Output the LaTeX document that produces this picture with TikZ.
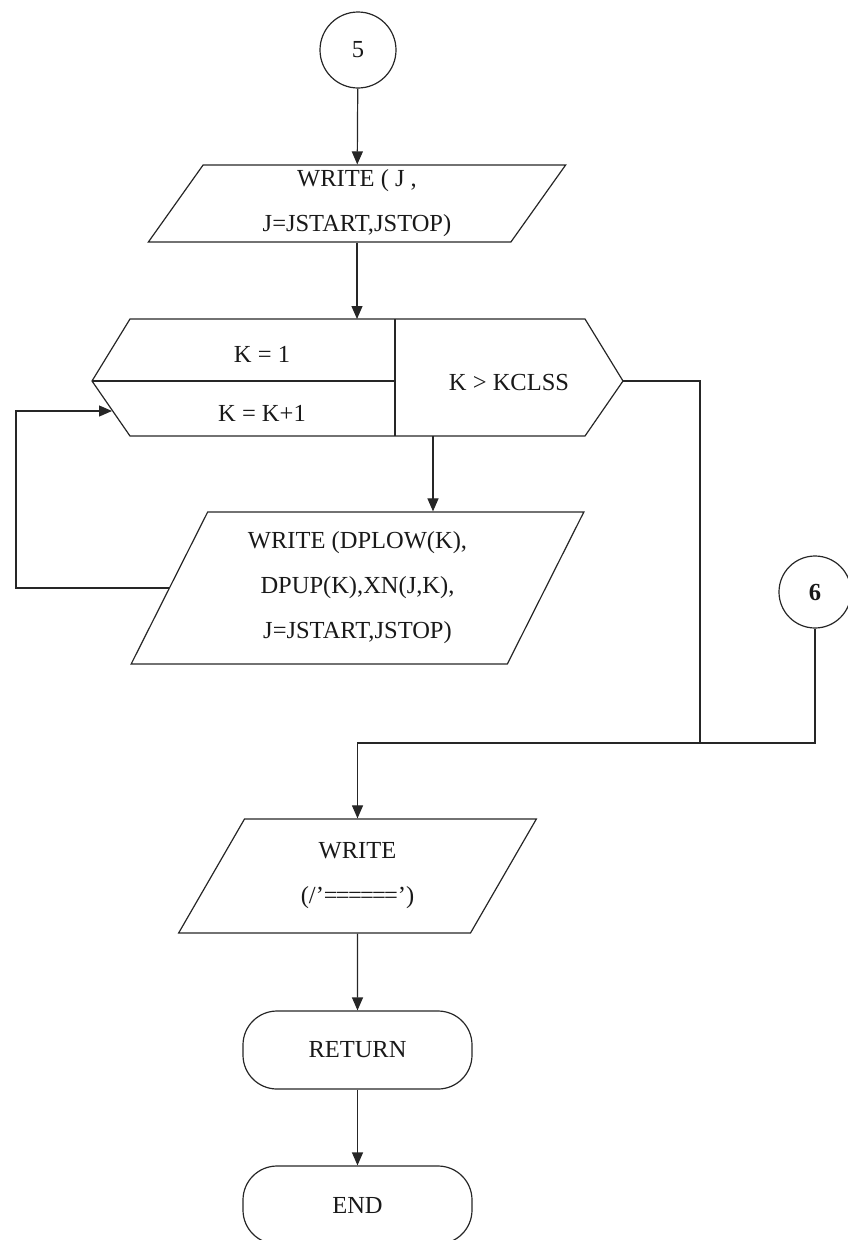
\documentclass[tikz,border=0pt]{standalone}
\usepackage{fontspec}
\setmainfont{Liberation Serif}
\usetikzlibrary{arrows.meta,shapes.geometric}

\tikzset{
  flow/.style={line width=1.2pt, draw=black!85},
  arr/.style={flow, -{Triangle[length=13pt,width=11pt]}},
  lbl/.style={font=\fontsize{24.5}{45}\selectfont, text=black!90, align=center, inner sep=0pt},
  io/.style={flow, lbl, trapezium, trapezium left angle=63.5, trapezium right angle=116.5,
             trapezium stretches=true, inner sep=0pt},
  conn/.style={flow, lbl, circle, minimum size=#1},
  term/.style={flow, lbl, rectangle, rounded corners=34pt, minimum width=229pt, minimum height=78pt}
}
% a run of equals signs set close enough to join into one double bar
\newcommand{\eqrun}{=\kern-1.8pt=\kern-1.8pt=\kern-1.8pt=\kern-1.8pt=\kern-1.8pt=}

\begin{document}
\begin{tikzpicture}[x=1pt, y=-1pt]
  \useasboundingbox (0,0) rectangle (847,1240);

  % connector 5 and the heading output
  \node[conn=76pt] (c5) at (358,50) {5};
  \node[io, minimum width=418pt, minimum height=77pt] (p1) at (357,203.5)
       {WRITE ( J ,\\J=JSTART,JSTOP)};

  % loop header: initial value, increment and exit test
  \coordinate (hxtl) at (130,319);
  \coordinate (hxtr) at (585,319);
  \coordinate (hxr)  at (623,381);
  \coordinate (hxbr) at (585,436);
  \coordinate (hxbl) at (130,436);
  \coordinate (hxl)  at (92,381);
  \coordinate (hxdt) at (395,319);
  \coordinate (hxdb) at (395,436);
  \coordinate (hxdm) at (395,381);
  \draw[flow] (hxtl) -- (hxtr) -- (hxr) -- (hxbr) -- (hxbl) -- (hxl) -- cycle;
  \draw[flow] (hxdt) -- (hxdb);
  \draw[flow] (hxl) -- (hxdm);
  \node[lbl] (kinit) at (262,354) {K = 1};
  \node[lbl] (kinc)  at (262,413) {K = K+1};
  \node[lbl] (ktest) at (509,383) {K > KCLSS};
  \coordinate (hxin)   at (357,319);
  \coordinate (hxout)  at (433,436);
  \coordinate (hxloop) at (112,411);

  % loop body
  \node[io, minimum width=455pt, minimum height=152pt] (p2) at (357.5,588)
       {WRITE (DPLOW(K),\\DPUP(K),XN(J,K),\\J=JSTART,JSTOP)};
  \coordinate (loopc) at (16,411);

  % connector 6 and the join
  \node[conn=72pt, font=\fontsize{24.5}{45}\selectfont\bfseries] (c6) at (815,592) {6};
  \coordinate (exitc) at (700,381);
  \coordinate (mergeR) at (700,743);

  % closing output, return and end
  \node[io, minimum width=358pt, minimum height=114pt] (p3) at (357.5,876)
       {WRITE\\(/'\eqrun')};
  \node[term] (ret) at (357.5,1050) {RETURN};
  \node[term] (fin) at (357.5,1205) {END};

  % connectors
  \draw[arr] (c5) -- (p1);
  \draw[arr] (p1.south) -- (hxin);
  \draw[arr] (hxout) -- (hxout |- p2.north);
  \draw[arr] (p2.west) -| (loopc) -- (hxloop);
  \draw[flow] (hxr) -- (exitc) -- (mergeR);
  \draw[flow] (c6) |- (mergeR);
  \draw[arr] (mergeR) -| (p3.north);
  \draw[arr] (p3.south) -- (ret.north);
  \draw[arr] (ret.south) -- (fin.north);
\end{tikzpicture}
\end{document}
